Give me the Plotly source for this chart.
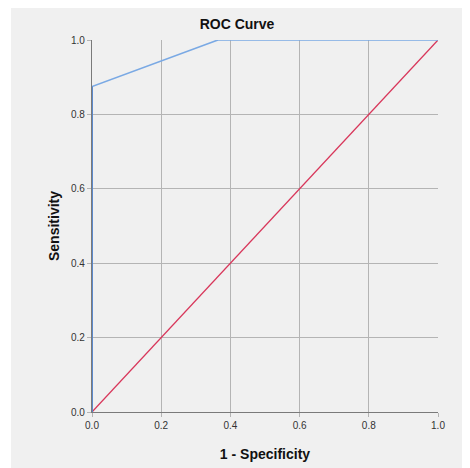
import plotly.graph_objects as go

roc_fpr = [0.0, 0.0, 0.364, 1.0]
roc_tpr = [0.0, 0.875, 1.0, 1.0]
ref_x = [0.0, 1.0]
ref_y = [0.0, 1.0]
tick_vals = [0.0, 0.2, 0.4, 0.6, 0.8, 1.0]
tick_text = ["0.0", "0.2", "0.4", "0.6", "0.8", "1.0"]

# page has an 8px body margin; figure is offset accordingly
OFF = 8
W, H = 470 - OFF, 468 - OFF
L, R, T, B = 92 - OFF, 470 - 438, 40 - OFF, 468 - 412
pw, ph = W - L - R, H - T - B

def px_x(p):
    return (p - OFF - L) / pw

def px_y(p):
    return (H - B - (p - OFF)) / ph

fig = go.Figure()
fig.add_trace(go.Scatter(x=ref_x, y=ref_y, mode="lines",
                         line=dict(color="#d8365a", width=1.3), showlegend=False))
fig.add_trace(go.Scatter(x=roc_fpr, y=roc_tpr, mode="lines",
                         line=dict(color="#7aa9e4", width=1.6), showlegend=False))
fig.add_trace(go.Scatter(x=roc_fpr[:2], y=roc_tpr[:2], mode="lines",
                         line=dict(color="#4f7fc6", width=1.6), showlegend=False))

axis_common = dict(range=[0, 1], tickvals=tick_vals, ticktext=tick_text,
                   showgrid=True, gridcolor="#b4b4b4", gridwidth=1,
                   showline=True, linecolor="#7a7a7a", linewidth=1.2,
                   ticks="outside", ticklen=4, tickcolor="#b4b4b4",
                   tickfont=dict(family="Liberation Sans, Arial", size=10, color="#333333"),
                   zeroline=False, fixedrange=True)

fig.update_layout(
    width=W, height=H,
    margin=dict(l=L, r=R, t=T, b=B, autoexpand=False),
    paper_bgcolor="#f0f0f0", plot_bgcolor="#f0f0f0",
    title=dict(text="<b>ROC Curve</b>", x=(237 - OFF) / W, xref="container", xanchor="center",
               y=1 - (24 - OFF) / H, yref="container", yanchor="middle",
               font=dict(family="Liberation Sans, Arial", size=14, color="#111111")),
    xaxis=dict(**axis_common,
               title=dict(text="<b>1 - Specificity</b>", standoff=19,
                          font=dict(family="Liberation Sans, Arial", size=14, color="#111111"))),
    yaxis=dict(**axis_common,
               title=dict(text="<b>Sensitivity</b>", standoff=8,
                          font=dict(family="Liberation Sans, Arial", size=14, color="#111111"))),
    shapes=[
        dict(type="rect", xref="paper", yref="paper", x0=px_x(-2), x1=px_x(11),
             y0=px_y(H + 20), y1=px_y(-20), fillcolor="white", line=dict(width=0), layer="below"),
    ],
)

fig.write_html("out.html")
